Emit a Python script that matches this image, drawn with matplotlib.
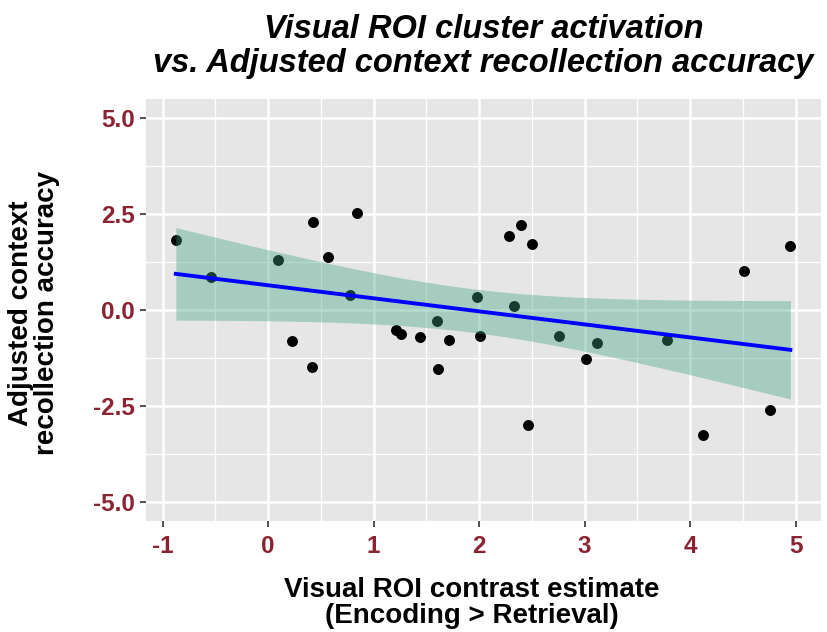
import numpy as np
import matplotlib.pyplot as plt

# contrast estimate (Encoding > Retrieval) and adjusted recollection accuracy
roi_contrast = [-0.875, -0.537, 0.089, 0.228, 0.417, 0.427, 0.572, 0.774, 0.838, 1.21,
                1.26, 1.44, 1.60, 1.61, 1.71, 1.98, 2.01, 2.28, 2.33, 2.395,
                2.46, 2.50, 2.76, 3.01, 3.12, 3.78, 4.12, 4.51, 4.76, 4.95]
recall_acc = [1.83, 0.85, 1.31, -0.82, -1.48, 2.29, 1.37, 0.40, 2.54, -0.52,
              -0.63, -0.71, -0.30, -1.53, -0.77, 0.35, -0.67, 1.93, 0.10, 2.23,
              -3.01, 1.73, -0.67, -1.28, -0.87, -0.77, -3.27, 1.01, -2.60, 1.67]
x_ticks = [-1, 0, 1, 2, 3, 4, 5]
y_ticks = [-5.0, -2.5, 0.0, 2.5, 5.0]

plt.rcParams["font.family"] = ["Liberation Sans", "DejaVu Sans"]
plt.rcParams["axes.unicode_minus"] = False
TICK_RED = "#8B2332"
BAND = "#3fa080"

x = np.array(roi_contrast)
y = np.array(recall_acc)

# linear fit with 95% confidence band (lm-style)
n = len(x)
slope, icpt = np.polyfit(x, y, 1)
resid = y - (slope * x + icpt)
s = np.sqrt(np.sum(resid ** 2) / (n - 2))
t_crit = 2.048  # t(0.975, df=28)
xs = np.linspace(x.min(), x.max(), 200)
ys = slope * xs + icpt
se = s * np.sqrt(1 / n + (xs - x.mean()) ** 2 / np.sum((x - x.mean()) ** 2))

fig = plt.figure(figsize=(8.28, 6.32), dpi=100)
ax = fig.add_axes([0.176, 0.176, 0.8155, 0.667])
ax.set_facecolor("#E6E6E6")

ax.scatter(x, y, s=62, color="black", zorder=3, linewidths=0)
ax.fill_between(xs, ys - t_crit * se, ys + t_crit * se, color=BAND,
                alpha=0.38, linewidth=0, zorder=4)
ax.plot(xs, ys, color="#0000FF", lw=2.8, zorder=5)

ax.set_xlim(-1.16, 5.24)
ax.set_ylim(-5.5, 5.5)
ax.set_xticks(x_ticks)
ax.set_yticks(y_ticks)
ax.set_yticklabels([f"{v:.1f}" for v in y_ticks])
ax.set_xticks([-0.5, 0.5, 1.5, 2.5, 3.5, 4.5], minor=True)
ax.set_yticks([-3.75, -1.25, 1.25, 3.75], minor=True)
ax.grid(which="major", color="white", lw=1.8)
ax.grid(which="minor", color="white", lw=0.9)
ax.set_axisbelow(True)
for sp in ax.spines.values():
    sp.set_visible(False)
ax.tick_params(which="major", length=4, width=1.2, color="#333333",
               labelsize=17.5, labelcolor=TICK_RED)
ax.tick_params(axis="x", which="major", pad=6)
ax.tick_params(axis="y", which="major", pad=4)
ax.tick_params(which="minor", length=0)
for lab in ax.get_xticklabels() + ax.get_yticklabels():
    lab.set_fontweight("bold")

fig.text(0.584, 0.953, "Visual ROI cluster activation", ha="center", va="center",
         fontsize=23.5, fontweight="bold", fontstyle="italic")
fig.text(0.584, 0.900, "vs. Adjusted context recollection accuracy", ha="center",
         va="center", fontsize=23.5, fontweight="bold", fontstyle="italic")

fig.text(0.57, 0.0465, "Visual ROI contrast estimate\n(Encoding > Retrieval)",
         ha="center", va="center", fontsize=20, fontweight="bold", linespacing=1.0)
fig.text(0.0415, 0.505, "Adjusted context\nrecollection accuracy", ha="center",
         va="center", rotation=90, fontsize=20, fontweight="bold", linespacing=1.0)

fig.savefig("out.png", dpi=100, facecolor="white")
